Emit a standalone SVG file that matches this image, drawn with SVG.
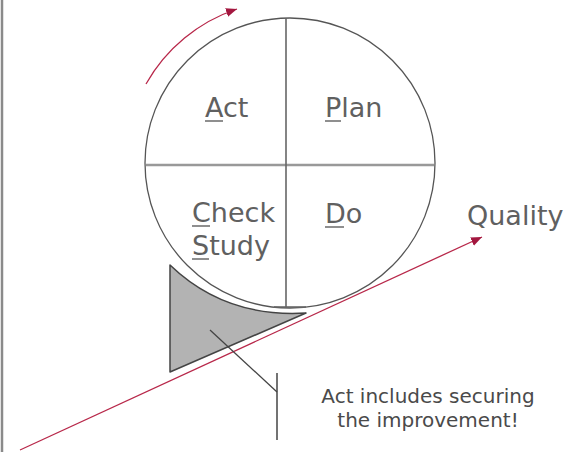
<svg xmlns="http://www.w3.org/2000/svg" width="570" height="452" viewBox="0 0 570 452">
<style>
.lbl{font-family:"DejaVu Sans","Liberation Sans",sans-serif;fill:#606060;}
.big{font-size:27px;}
.note{font-size:20px;fill:#4a4a4a;}
.ul{stroke:#6a6a6a;stroke-width:1.5;}
</style>
<defs>
<marker id="ah" markerUnits="userSpaceOnUse" markerWidth="12" markerHeight="10" refX="11" refY="4.5" orient="auto">
<path d="M0,0 L11,4.5 L0,9 Z" fill="#a3173f"/>
</marker>
</defs>
<rect width="570" height="452" fill="#fff"/>
<line x1="2" y1="0" x2="2" y2="452" stroke="#8a8a8a" stroke-width="2.5"/>
<g id="circle">
<circle cx="290" cy="163" r="145" fill="none" stroke="#555" stroke-width="1.3"/>
<line x1="146" y1="165" x2="434" y2="165" stroke="#999" stroke-width="2.5"/>
<line x1="286" y1="18" x2="286" y2="307" stroke="#666" stroke-width="1.6"/>
<line x1="274" y1="307" x2="306" y2="307" stroke="#666" stroke-width="1.6"/>
</g>
<g id="act"><text class="lbl big" x="205" y="117">Act</text><line class="ul" x1="205" y1="121" x2="223" y2="121"/></g>
<g id="plan"><text class="lbl big" x="325" y="117">Plan</text><line class="ul" x1="325" y1="121" x2="341" y2="121"/></g>
<g id="check"><text class="lbl big" x="192" y="222">Check</text><line class="ul" x1="192" y1="226" x2="210" y2="226"/>
<text class="lbl big" x="192" y="255">Study</text><line class="ul" x1="192" y1="259" x2="209" y2="259"/></g>
<g id="do"><text class="lbl big" x="325" y="223">Do</text><line class="ul" x1="325" y1="227" x2="344" y2="227"/></g>
<g id="wedge">
<path d="M170,265 Q225,318 306,313 L170,372 Z" fill="#b3b3b3" stroke="#444" stroke-width="1.5" stroke-linejoin="round"/>
</g>
<g id="quality"><text class="lbl big" x="467" y="225">Quality</text></g>
<g id="note">
<text class="lbl note" x="428" y="403" text-anchor="middle">Act includes securing</text>
<text class="lbl note" x="428" y="427" text-anchor="middle">the improvement!</text>
</g>
<g id="connectors">
<path d="M146,84 A164,164 0 0,1 237,9" fill="none" stroke="#b8284a" stroke-width="1.3" marker-end="url(#ah)"/>
<line x1="20" y1="450" x2="482" y2="237" stroke="#b8284a" stroke-width="1.3" marker-end="url(#ah)"/>
<line x1="210" y1="330" x2="277" y2="392" stroke="#444" stroke-width="1.3"/>
<line x1="277" y1="373" x2="277" y2="440" stroke="#444" stroke-width="1.5"/>
</g>
</svg>
